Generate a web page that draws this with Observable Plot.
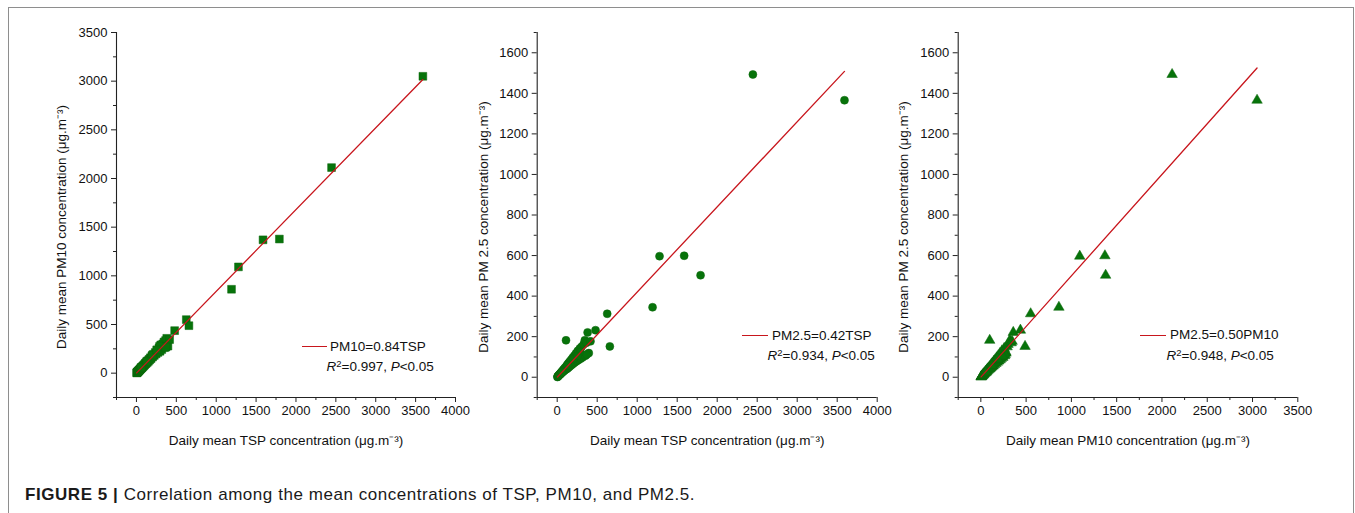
<!DOCTYPE html>
<html><head><meta charset="utf-8">
<script src="https://cdn.jsdelivr.net/npm/d3@7"></script>
<script src="https://cdn.jsdelivr.net/npm/@observablehq/plot@0.6"></script>
<style>
body{margin:0;background:#fff;font-family:"Liberation Sans",Arial,sans-serif;}
#wrap{position:relative;width:1355px;height:513px;overflow:hidden;background:#fff;}
#frame{position:absolute;left:8px;top:7px;width:1346px;height:600px;border:1.5px solid #8e8e8e;box-sizing:border-box;}
.panel{position:absolute;top:0;}
.leg{position:absolute;font-size:13.5px;color:#111;white-space:nowrap;line-height:16px;}
.ln{position:absolute;height:0;border-top:1.4px solid #c8161d;}
#caption{position:absolute;left:25px;top:485px;font-size:17px;letter-spacing:0.55px;line-height:20px;color:#1a1a1a;white-space:nowrap;}
sup{font-size:70%;vertical-align:top;position:relative;top:-3px;}
</style></head>
<body><div id="wrap"><div id="frame"></div></div>
<script>
// Daily means (µg/m³) — one entry per day, same days across all three panels
const tsp  = [3591,2446,1587,1792,1279,1192,625,658,479,
  3,6,9,12,15,19,23,27,31,35,40,44,49,54,58,63,68,74,79,85,90,97,103,110,115,121,128,135,142,150,158,166,175,184,193,203,213,224,235,247,258,270,283,296,305,318,330,345,352,365,380,395,416,290,370,200,255,60,130];
const pm10 = [3050,2112,1370,1378,1092,862,550,488,437,
  3,5,8,10,13,17,19,24,26,31,33,39,41,48,49,56,57,66,66,76,75,87,85,98,103,99,115,110,128,122,142,136,158,150,174,166,193,182,212,198,233,213,258,225,290,243,300,320,262,335,358,278,345,275,268,185,240,58,120];
const pm25 = [1366,1493,599,503,597,345,313,152,232,
  1,3,4,6,6,9,10,13,12,17,15,21,19,26,22,30,26,36,29,41,33,47,37,182,55,41,63,46,70,51,78,56,86,62,96,68,106,74,118,80,130,86,142,92,150,98,162,182,106,170,221,119,177,125,112,90,105,25,58];

// axis ticks
const xMajorA = [0,500,1000,1500,2000,2500,3000,3500,4000];
const xMinorA = [-250,250,750,1250,1750,2250,2750,3250,3750];
const yMajorA = [0,500,1000,1500,2000,2500,3000,3500];
const yMinorA = [-250,250,750,1250,1750,2250,2750,3250];
const yMajorB = [0,200,400,600,800,1000,1200,1400,1600];
const yMinorB = [-100,100,300,500,700,900,1100,1300,1500,1700];
const xMajorC = [0,500,1000,1500,2000,2500,3000,3500];
const xMinorC = [-250,250,750,1250,1750,2250,2750,3250];

// fits
const slopes = [0.84, 0.42, 0.50];
const equations = ["PM10=0.84TSP", "PM2.5=0.42TSP", "PM2.5=0.50PM10"];
const r2 = ["0.997", "0.934", "0.948"];
const xTitles = ["Daily mean TSP concentration (μg.m⁻³)", "Daily mean TSP concentration (μg.m⁻³)", "Daily mean PM10 concentration (μg.m⁻³)"];
const yTitles = ["Daily mean PM10 concentration (μg.m⁻³)", "Daily mean PM 2.5 concentration (μg.m⁻³)", "Daily mean PM 2.5 concentration (μg.m⁻³)"];

const rows = tsp.map((t, i) => ({tsp: t, pm10: pm10[i], pm25: pm25[i]}));

const GREEN = "#07730a", RED = "#c8161d";
const FONT = "'Liberation Sans', Arial, sans-serif";
const fmt = d => String(d);

const panels = [
  {x:"tsp", y:"pm10", symbol:"square", r:4.4, xd:[-250,4000], yd:[-250,3500], xM:xMajorA, xm:xMinorA, yM:yMajorA, ym:yMinorA,
   left:0, width:470, ml:116, mr:15, ytdx:-54.5, ytdy:12,
   leg:{lx:301.5, lw:25, ly:346.7, tx:330, t2x:326.5, t2y:366.5}},
  {x:"tsp", y:"pm25", symbol:"circle", r:4.0, xd:[-250,4000], yd:[-100,1700], xM:xMajorA, xm:xMinorA, yM:yMajorB, ym:yMinorB,
   left:470, width:420, ml:66.7, mr:13.3, ytdx:-53.7, ytdy:12,
   leg:{lx:741.5, lw:26, ly:335.7, tx:772, t2x:767.5, t2y:356}},
  {x:"pm10", y:"pm25", symbol:"triangle", r:3.9, xd:[-250,3500], yd:[-100,1700], xM:xMajorC, xm:xMinorC, yM:yMajorB, ym:yMinorB,
   left:890, width:465, ml:67.7, mr:57.7, ytdx:-54.7, ytdy:12,
   leg:{lx:1140, lw:26, ly:335.2, tx:1170, t2x:1166.5, t2y:355.5}}
];

const wrap = document.getElementById("wrap");

panels.forEach((p, i) => {
  const ext = d3.extent(rows, d => d[p.x]);
  const fit = ext.map(v => ({x: v, y: v * slopes[i]}));
  const chart = Plot.plot({
    width: p.width, height: 460,
    marginLeft: p.ml, marginRight: p.mr, marginTop: 32, marginBottom: 63,
    style: {fontFamily: FONT, fontSize: "13px", color: "#111", background: "transparent", overflow: "visible"},
    x: {domain: p.xd},
    y: {domain: p.yd},
    marks: [
      Plot.dot(rows, {x: p.x, y: p.y, symbol: p.symbol, r: p.r, fill: GREEN, stroke: "#0c660c", strokeWidth: 0.5}),
      Plot.line(fit, {x: "x", y: "y", stroke: RED, strokeWidth: 1.3}),
      Plot.ruleX([p.xd[0]], {stroke: "#222", strokeWidth: 1.1}),
      Plot.ruleY([p.yd[0]], {stroke: "#222", strokeWidth: 1.1}),
      Plot.axisX(p.xM, {tickSize: 5, tickPadding: 3, tickFormat: fmt, label: null, fontSize: 13, stroke: "#222"}),
      Plot.axisX(p.xm, {tickSize: 3, tickFormat: () => "", label: null, stroke: "#222"}),
      Plot.axisY(p.yM, {tickSize: 5, tickPadding: 4, tickFormat: fmt, label: null, fontSize: 13, stroke: "#222"}),
      Plot.axisY(p.ym, {tickSize: 3, tickFormat: () => "", label: null, stroke: "#222"}),
      Plot.text([xTitles[i]], {text: d => d, frameAnchor: "bottom", dy: 43, fontSize: 13.5, lineAnchor: "middle", fill: "#111"}),
      Plot.text([yTitles[i]], {text: d => d, frameAnchor: "left", rotate: -90, dx: p.ytdx, dy: p.ytdy, fontSize: 13.5, lineAnchor: "middle", textAnchor: "middle", fill: "#111"})
    ]
  });
  chart.classList.add("panel");
  chart.style.left = p.left + "px";
  wrap.appendChild(chart);

  // legend
  const L = p.leg;
  const ln = document.createElement("div");
  ln.className = "ln";
  ln.style.left = L.lx + "px"; ln.style.top = (L.ly - 0.7) + "px"; ln.style.width = L.lw + "px";
  wrap.appendChild(ln);
  const t1 = document.createElement("div");
  t1.className = "leg";
  t1.style.left = L.tx + "px"; t1.style.top = (L.ly - 8) + "px";
  t1.textContent = equations[i];
  wrap.appendChild(t1);
  const t2 = document.createElement("div");
  t2.className = "leg";
  t2.style.left = L.t2x + "px"; t2.style.top = (L.t2y - 8) + "px";
  t2.innerHTML = "<i>R</i><sup>2</sup>=" + r2[i] + ", <i>P</i>&lt;0.05";
  wrap.appendChild(t2);
});

const cap = document.createElement("div");
cap.id = "caption";
cap.innerHTML = "<b>FIGURE 5 |</b> Correlation among the mean concentrations of TSP, PM10, and PM2.5.";
wrap.appendChild(cap);
</script>
</body></html>
